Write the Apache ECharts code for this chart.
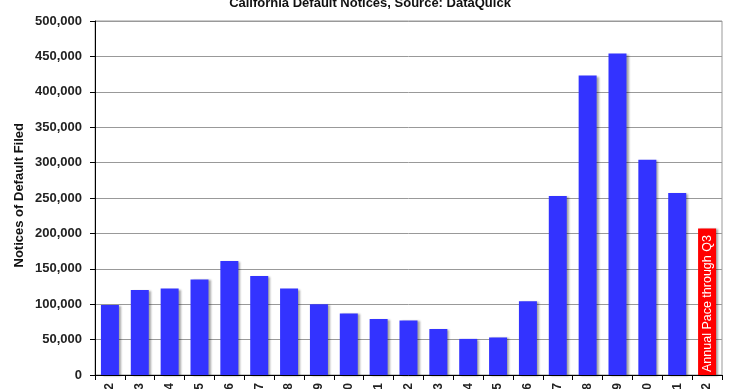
<!DOCTYPE html>
<html><head><meta charset="utf-8">
<script src="https://cdn.jsdelivr.net/npm/echarts@6/dist/echarts.min.js"></script>
<style>html,body{margin:0;padding:0;background:#fff}#c{width:740px;height:389px}</style>
</head><body><div id="c"></div>
<script>
const years = ['1992','1993','1994','1995','1996','1997','1998','1999','2000','2001','2002','2003','2004','2005','2006','2007','2008','2009','2010','2011','2012'];
const notices = [99000,120000,122000,135000,161000,140000,122000,100000,87000,79000,77000,65000,51000,53000,104000,253000,423000,454000,304000,257000,207000];
const yTicks = [0,50000,100000,150000,200000,250000,300000,350000,400000,450000,500000];
const titleText = 'California Default Notices, Source: DataQuick';
const yName = 'Notices of Default Filed';
const paceLabel = 'Annual Pace through Q3';

const chart = echarts.init(document.getElementById('c'));
const font = 'Liberation Sans, Arial, sans-serif';
chart.setOption({
  animation:false,
  title:{text:titleText,left:'center',top:-8,textStyle:{fontFamily:font,fontSize:13,fontWeight:'bold',color:'#111'}},
  graphic:[{type:'text',left:13,top:123,rotation:Math.PI/2,style:{text:yName,font:'bold 13px '+font,fill:'#111'}}],
  grid:{left:95,right:18,top:21,bottom:14,containLabel:false,outerBoundsMode:'none',show:true,borderColor:'#999',borderWidth:1},
  xAxis:{type:'category',data:years,
    axisLine:{lineStyle:{color:'#000',width:1}},
    axisTick:{show:true,alignWithLabel:false,length:5,lineStyle:{color:'#000'}},
    axisLabel:{rotate:90,fontFamily:font,fontSize:12,fontWeight:'bold',color:'#222',margin:8,interval:0}},
  yAxis:{type:'value',min:yTicks[0],max:yTicks[yTicks.length-1],interval:50000,
    axisLine:{show:true,lineStyle:{color:'#000',width:1}},
    axisTick:{show:true,length:5,lineStyle:{color:'#000'}},
    splitLine:{lineStyle:{color:'#999',width:1}},
    axisLabel:{fontFamily:font,fontSize:13,fontWeight:'bold',color:'#222',margin:13,
      formatter:v=>v.toLocaleString('en-US')}},
  series:[{type:'bar',barWidth:18,
    data:notices.map((v,i)=>{
      const last = i===notices.length-1;
      return {value:v,
        itemStyle:{color:last?'#ff0000':'#3333ff',shadowColor:'rgba(0,0,0,0.35)',shadowBlur:2,shadowOffsetX:2,shadowOffsetY:1},
        label:last?{show:true,position:'insideBottom',rotate:90,align:'left',verticalAlign:'middle',distance:3,
          formatter:paceLabel,color:'#fff',fontFamily:font,fontSize:12.5}:{show:false}};
    })}]
});
</script></body></html>
